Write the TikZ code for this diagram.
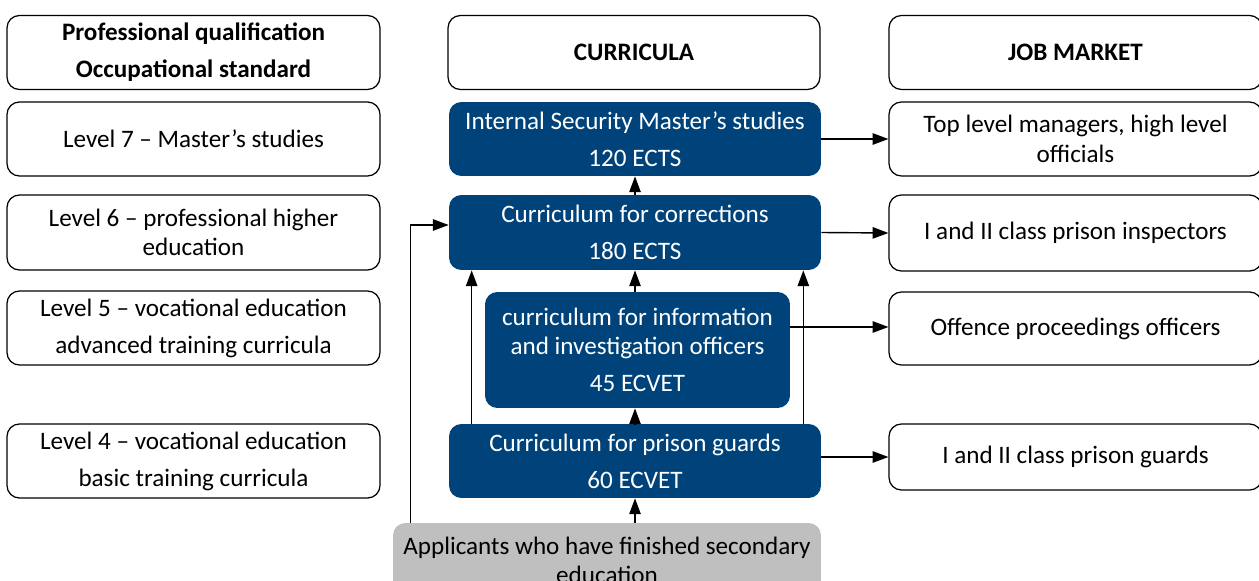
\documentclass[tikz,border=0pt]{standalone}
\usepackage{fontspec}
\setmainfont{Carlito}
\usetikzlibrary{arrows.meta}

\definecolor{curblue}{HTML}{00437A}
\definecolor{appgrey}{HTML}{BFBFBF}

\begin{document}
\begin{tikzpicture}[x=0.02cm,y=-0.02cm,
    box/.style={rounded corners=7pt, minimum width=7.46cm, minimum height=1.48cm,
        align=center, inner sep=0pt, font=\fontsize{14.3}{16.8}\selectfont},
    whitebox/.style={box, draw, line width=0.7pt},
    headbox/.style={whitebox, font=\fontsize{14.3}{16.8}\selectfont\bfseries},
    bluebox/.style={box, fill=curblue, text=white},
    greybox/.style={box, fill=appgrey},
    link/.style={-{Triangle[length=9pt,width=6.5pt]}, line width=0.8pt}]

\useasboundingbox (0,0) rectangle (1259,581);

% left column
\node [headbox] (qual) at (193.5,52.5) {Professional qualification\\[4.3pt]Occupational standard};
\node [whitebox] (lvl7) at (193.5,139) {Level 7 -- Master’s studies};
\node [whitebox, minimum height=1.5cm] (lvl6) at (193.5,232.5) {Level 6 -- professional higher\\education};
\node [whitebox] (lvl5) at (193.5,328) {Level 5 -- vocational education\\[4.3pt]advanced training curricula};
\node [whitebox] (lvl4) at (193.5,461) {Level 4 -- vocational education\\[4.3pt]basic training curricula};

% curricula
\node [headbox, minimum width=7.44cm] (cur) at (634,52.5) {CURRICULA};
\node [bluebox, minimum width=7.44cm] (master) at (635,139) {Internal Security Master’s studies\\[4.3pt]120 ECTS};
\node [bluebox, minimum width=7.44cm, minimum height=1.5cm] (corr) at (635,232.5) {Curriculum for corrections\\[4.3pt]180 ECTS};
\node [bluebox, minimum width=6.1cm, minimum height=2.32cm] (info) at (637.5,350) {curriculum for information\\and investigation officers\\[4.3pt]45 ECVET};
\node [bluebox, minimum width=7.44cm] (guards) at (635,461) {Curriculum for prison guards\\[4.3pt]60 ECVET};
\node [greybox, minimum width=8.56cm, minimum height=1.5cm] (appl) at (607,560.5) {Applicants who have finished secondary\\education};

% job market
\node [headbox] (job) at (1075.5,52.5) {JOB MARKET};
\node [whitebox] (mgr) at (1075.5,139) {Top level managers, high level\\officials};
\node [whitebox, minimum height=1.52cm] (insp) at (1075.5,233) {I and II class prison inspectors};
\node [whitebox, minimum height=1.46cm] (offc) at (1075.5,328.5) {Offence proceedings officers};
\node [whitebox, minimum height=1.32cm] (pg) at (1075.5,457) {I and II class prison guards};

% arrows
\draw [link] (master.east) -- (mgr.west);
\draw [link] (corr.east) -- (insp.west);
\draw [link] ([yshift=0.46cm]info.east) -- ([yshift=0.46cm]info.east -| offc.west);
\draw [link] (pg.west -| guards.east) -- (pg.west);

\draw [link] (corr.north) -- (master.south);
\draw [link] (info.north -| corr.south) -- (corr.south);
\draw [link] (guards.north) -- (info.south -| guards.north);
\draw [link] (appl.north -| guards.south) -- (guards.south);
\draw [link] ([xshift=0.46cm]guards.north west) -- ([xshift=0.46cm]corr.south west);
\draw [link] ([xshift=-0.36cm]guards.north east) -- ([xshift=-0.36cm]corr.south east);
\draw [link] ([xshift=0.36cm]appl.north west) |- ([yshift=0.15cm]corr.west);

\end{tikzpicture}
\end{document}
